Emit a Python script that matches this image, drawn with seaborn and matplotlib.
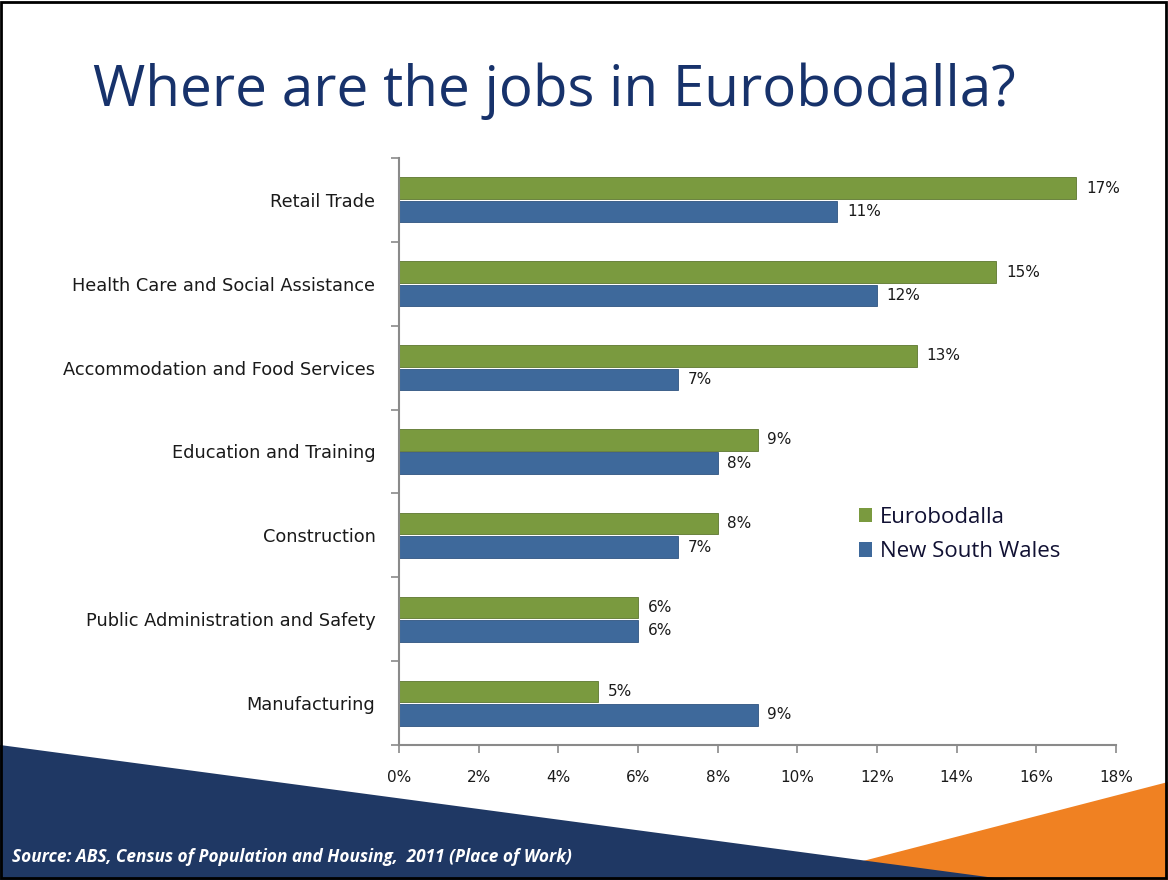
import matplotlib
matplotlib.use("Agg")
import matplotlib.pyplot as plt
import matplotlib.patches as mpatches
from matplotlib.ticker import FixedLocator, NullFormatter
import seaborn as sns
import pandas as pd

# Share of employment by industry (%), 2011 Census, place of work
industries = [
    "Retail Trade",
    "Health Care and Social Assistance",
    "Accommodation and Food Services",
    "Education and Training",
    "Construction",
    "Public Administration and Safety",
    "Manufacturing",
]
eurobodalla = [17, 15, 13, 9, 8, 6, 5]
nsw = [11, 12, 7, 8, 7, 6, 9]
series_names = ["Eurobodalla", "New South Wales"]
x_ticks = [0, 2, 4, 6, 8, 10, 12, 14, 16, 18]

df = pd.DataFrame({
    "Industry": industries * 2,
    "Region": [series_names[0]] * len(industries) + [series_names[1]] * len(industries),
    "Share": eurobodalla + nsw,
})

sns.set_theme(style="white")
plt.rcParams["font.family"] = ["Open Sans", "DejaVu Sans"]

W, H = 1168, 880
fig = plt.figure(figsize=(W / 100, H / 100), dpi=100)
fig.patch.set_facecolor("white")

GREEN = "#7A9A3F"
BLUE = "#3E699B"
NAVY = "#1F3864"
ORANGE = "#F08122"

# Decorative corner shapes (figure pixel coordinates, origin top-left)
def fig_poly(points, color, z):
    pts = [(x / W, 1 - y / H) for x, y in points]
    fig.patches.append(mpatches.Polygon(pts, closed=True, transform=fig.transFigure,
                                        facecolor=color, edgecolor="none", zorder=z))

fig_poly([(863, 861), (1168, 782), (1168, 880), (863, 880)], ORANGE, 0)
fig_poly([(0, 745), (1010, 880), (0, 880)], NAVY, 1)

# Frame around the slide
fig.patches.append(mpatches.Rectangle((0.001, 0.002), 0.997, 0.996, transform=fig.transFigure,
                                      facecolor="none", edgecolor="black", linewidth=2, zorder=5))

ax = fig.add_axes([399 / W, 1 - 745 / H, (1116 - 399) / W, (745 - 158) / H])
ax.set_facecolor("none")

sns.barplot(data=df, y="Industry", x="Share", hue="Region", orient="h",
            palette=[GREEN, BLUE], saturation=1, width=0.56, gap=0.08, ax=ax,
            linewidth=0.0, legend=True)

# Slightly darker outlines on the bars for a bevelled look
for container, edge in zip(ax.containers, ["#5d7630", "#2f5480"]):
    for bar in container:
        bar.set_edgecolor(edge)
        bar.set_linewidth(0.6)
    ax.bar_label(container, labels=[f"{int(v)}%" for v in container.datavalues],
                 padding=7, fontsize=11, color="#1a1a1a", family=["DejaVu Sans"])

ax.set_xlim(0, 18)
ax.set_ylim(len(industries) - 0.5, -0.5)
ax.set_xticks(x_ticks)
ax.set_xticklabels([f"{t}%" for t in x_ticks], fontsize=11, color="#1a1a1a", family=["DejaVu Sans"])
ax.set_xlabel("")
ax.set_ylabel("")

# Category ticks sit on band boundaries; labels stay centred
ax.yaxis.set_minor_locator(FixedLocator([i - 0.5 for i in range(len(industries) + 1)]))
ax.yaxis.set_minor_formatter(NullFormatter())
ax.tick_params(axis="y", which="major", length=0, pad=17, labelsize=12.8, labelcolor="#1a1a1a")
ax.tick_params(axis="y", which="minor", length=6, width=1.2, color="#8a8a8a", left=True)
ax.tick_params(axis="x", which="major", length=6, width=1.2, color="#8a8a8a", bottom=True, pad=12)
for lbl in ax.get_yticklabels():
    lbl.set_family(["DejaVu Sans"])

for side in ["top", "right"]:
    ax.spines[side].set_visible(False)
for side in ["left", "bottom"]:
    ax.spines[side].set_color("#8a8a8a")
    ax.spines[side].set_linewidth(1.5)

handles, labels = ax.get_legend_handles_labels()
ax.legend(handles, labels, loc="upper left",
          bbox_to_anchor=((839 - 399) / (1116 - 399), (745 - 487) / (745 - 158)),
          frameon=False, fontsize=16, handlelength=0.6, handleheight=0.6, handletextpad=0.35,
          labelspacing=0.6, labelcolor="#111133")

fig.text(93 / W, 1 - 106 / H, "Where are the jobs in Eurobodalla?", fontsize=40.8,
         color="#17326B", ha="left", va="baseline", family=["Open Sans", "DejaVu Sans"])

fig.text(12 / W, 1 - 862 / H, "Source: ABS, Census of Population and Housing,  2011 (Place of Work)",
         fontsize=12.4, color="white", style="italic", fontweight="bold", ha="left", va="baseline", zorder=6)

fig.savefig("out.png", dpi=100, facecolor="white")
